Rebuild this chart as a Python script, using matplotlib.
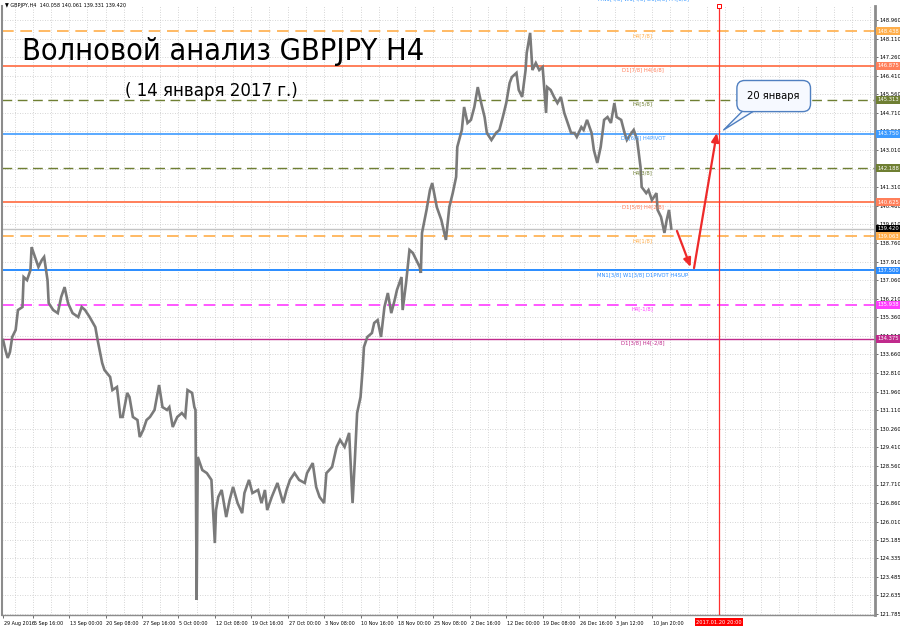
import matplotlib
matplotlib.use("Agg")
import matplotlib.pyplot as plt
import matplotlib.transforms as mtransforms
from matplotlib import font_manager as fm

# GBPJPY H4 path: bar index and price
bars = [0, 2, 4, 6, 8, 11, 13, 17, 18, 21,
        24, 25, 28, 31, 34, 36, 39, 40, 44, 48,
        51, 54, 57, 61, 66, 69, 72, 76, 81, 83,
        87, 89, 94, 96, 100, 103, 105, 109, 111, 114,
        118, 120, 123, 126, 129, 133, 137, 140, 144, 146,
        149, 153, 157, 160, 162, 166, 168, 169, 170, 171,
        175, 179, 183, 186, 187, 189, 192, 196, 199, 202,
        206, 210, 212, 216, 219, 224, 227, 230, 232, 236,
        241, 246, 249, 252, 256, 260, 265, 267, 272, 275,
        278, 282, 284, 289, 293, 296, 300, 304, 307, 309,
        311, 314, 316, 317, 320, 324, 326, 329, 332, 335,
        338, 341, 344, 346, 350, 351, 354, 357, 360, 363,
        366, 367, 368, 372, 375, 377, 381, 385, 389, 392,
        395, 398, 399, 403, 405, 408, 411, 414, 417, 420,
        423, 425, 429, 433, 436, 439, 442, 445, 447, 451,
        453, 456, 459, 460, 463, 465, 468, 471, 474, 477,
        478, 481, 484, 487, 490, 493, 496, 499, 502, 504,
        508, 510, 513, 517, 519, 522, 525, 528, 531, 534,
        537, 539, 543, 546, 548, 552, 554, 557, 560, 561,
        565, 567, 570, 574, 575, 578, 581, 583, 585, 587]
closes = [134.32, 133.86, 133.50, 133.77, 134.46, 134.78, 135.69, 135.83, 137.20, 137.06,
          137.52, 138.57, 138.12, 137.66, 137.98, 138.12, 137.06, 136.01, 135.69, 135.55,
          136.29, 136.74, 136.01, 135.55, 135.37, 135.83, 135.69, 135.37, 134.91, 134.32,
          133.27, 132.95, 132.63, 132.03, 132.17, 130.80, 130.80, 131.90, 131.71, 130.80,
          130.66, 129.88, 130.20, 130.66, 130.80, 131.12, 132.26, 131.25, 131.12, 131.25,
          130.34, 130.80, 130.98, 130.80, 132.03, 131.90, 131.25, 131.12, 122.43, 128.97,
          128.37, 128.23, 127.92, 125.03, 126.54, 127.14, 127.46, 126.22, 127.00, 127.60,
          126.86, 126.40, 127.32, 127.92, 127.32, 127.46, 126.86, 127.46, 126.54, 127.14,
          127.78, 126.86, 127.46, 127.92, 128.23, 127.92, 127.78, 128.23, 128.69, 127.60,
          127.14, 126.86, 128.23, 128.51, 129.43, 129.75, 129.43, 130.07, 126.86, 128.83,
          130.98, 131.71, 133.09, 134.00, 134.46, 134.64, 135.10, 135.23, 134.46, 135.83,
          136.47, 135.55, 136.15, 136.61, 137.20, 135.69, 136.93, 138.44, 138.30, 137.98,
          137.66, 137.39, 139.22, 140.27, 141.18, 141.50, 140.40, 139.81, 138.90, 140.40,
          141.04, 141.78, 143.15, 143.93, 144.98, 144.25, 144.39, 144.98, 145.89, 145.16,
          144.52, 143.79, 143.47, 143.79, 143.93, 144.52, 145.16, 146.08, 146.35, 146.54,
          145.76, 145.44, 146.67, 147.45, 148.37, 146.67, 146.99, 146.67, 146.81, 144.71,
          145.89, 145.76, 145.44, 145.16, 145.44, 144.71, 144.25, 143.79, 143.79, 143.61,
          144.06, 143.93, 144.39, 143.79, 143.01, 142.42, 143.15, 144.39, 144.52, 144.25,
          145.16, 144.52, 144.39, 143.79, 143.47, 143.79, 143.93, 143.47, 142.23, 141.32,
          141.04, 141.18, 140.72, 141.04, 140.27, 139.95, 139.22, 139.81, 140.27, 139.42]

last_price = 139.420
header = "\u25BC GBPJPY,H4  140.058 140.061 139.331 139.420"

# forecast arrows (wave down, then up to the target date)
forecast_bars = [592, 604, 607, 627]
forecast_prices = [139.31, 137.66, 137.61, 143.79]
target_bar = 629
target_label = "2017.01.20 20:00"

# murrey / pivot levels
level_values = [148.438, 146.875, 145.313, 143.750, 142.188, 140.625,
                139.063, 137.500, 135.938, 134.375]
level_names = ["H4[7/8]", "D1[7/8] H4[6/8]", "H4[5/8]", "D1[6/8] H4PIVOT",
               "H4[3/8]", "D1[5/8] H4[2/8]", "H4[1/8]",
               "MN1[3/8] W1[3/8] D1PIVOT H4SUP", "H4[-1/8]", "D1[3/8] H4[-2/8]"]
level_colors = ['#ffae4a', '#ff7f5a', '#6f7f33', '#3d9bff', '#6f7f33', '#ff7f5a',
                '#ffae4a', '#2a8cff', '#ff3cff', '#c02a8c']
level_dashed = [True, False, True, False, True, False, True, False, True, False]
level_widths = [1.2, 1.4, 1.0, 1.2, 1.0, 1.4, 1.2, 1.4, 1.2, 1.0]

date_labels = ["29 Aug 2016", "5 Sep 16:00", "13 Sep 00:00", "20 Sep 08:00",
               "27 Sep 16:00", "5 Oct 00:00", "12 Oct 08:00", "19 Oct 16:00",
               "27 Oct 00:00", "3 Nov 08:00", "10 Nov 16:00", "18 Nov 00:00",
               "25 Nov 08:00", "2 Dec 16:00", "12 Dec 00:00", "19 Dec 08:00",
               "26 Dec 16:00", "3 Jan 12:00", "10 Jan 20:00"]
date_bars = [0, 26, 58, 90, 122, 154, 186, 218, 250, 282, 314, 346, 378,
             410, 442, 474, 506, 538, 570]
price_ticks = [148.960, 148.110, 147.260, 146.410, 145.560, 144.710, 143.860,
               143.010, 142.160, 141.310, 140.460, 139.610, 138.760, 137.910,
               137.060, 136.210, 135.360, 134.510, 133.660, 132.810, 131.960,
               131.110, 130.260, 129.410, 128.560, 127.710, 126.860, 126.010,
               125.185, 124.335, 123.485, 122.635, 121.785]


# look for a narrow sans font, else shrink Liberation Sans
def find_narrow():
    keys = ['liberationsansnarrow-regular', 'dejavusanscondensed.ttf',
            'robotocondensed-regular', 'roboto_condensed-regular', 'opensans_condensed']
    files = [f.fname for f in fm.fontManager.ttflist]
    for key in keys:
        for fn in files:
            if key in fn.lower().replace(' ', ''):
                return fn
    return None

NARROW_FILE = find_narrow()

def nfont(size):
    if NARROW_FILE:
        return fm.FontProperties(fname=NARROW_FILE, size=size)
    return fm.FontProperties(family=['Liberation Sans', 'DejaVu Sans'], size=size * 0.84)


fig = plt.figure(figsize=(9, 6.29), dpi=100)
ax = fig.add_axes([2/900, 14/629, 873/900, 609/629])
ax.set_xlim(-1, 766)
ax.set_ylim(121.74, 149.60)

# grid: every date tick and midway, every price tick
for gx in range(-6, 766, 16):
    ax.axvline(gx, color='#c8c8c8', lw=0.6, ls=(0, (1, 2)), zorder=0)
for gy in price_ticks:
    ax.axhline(gy, color='#c8c8c8', lw=0.6, ls=(0, (1, 2)), zorder=0)

# price
ax.plot(bars, closes, color='#7a7a7a', lw=1.9, zorder=3, solid_joinstyle='miter')

# levels
for v, name, c, d, w in zip(level_values, level_names, level_colors, level_dashed, level_widths):
    ls = (0, (7, 4)) if d else '-'
    ax.axhline(v, color=c, lw=w, ls=ls, zorder=2)
    ax.annotate(name, xy=(562, v), xytext=(0, -1.3), textcoords='offset points',
                ha='center', va='top', fontproperties=nfont(4.2), color=c, zorder=4)
    ax.text(1.003, v, "%.3f" % v, transform=ax.get_yaxis_transform(), ha='left', va='center',
            fontproperties=nfont(4.2), color='white', zorder=6, clip_on=False,
            bbox=dict(boxstyle='square,pad=0.25', fc=c, ec='none'))

# current price line and label
ax.axhline(last_price, color='#c4c4c4', lw=1.0, zorder=1)
ax.text(1.003, last_price, "%.3f" % last_price, transform=ax.get_yaxis_transform(),
        ha='left', va='center', fontproperties=nfont(4.2), color='white', zorder=7,
        clip_on=False, bbox=dict(boxstyle='square,pad=0.25', fc='black', ec='none'))

# target date line
ax.axvline(target_bar, color='#ff3030', lw=0.9, zorder=3)
ax.plot([target_bar], [149.60], marker='s', ms=2.5, mfc='white', mec='red', mew=0.7,
        clip_on=False, zorder=8)
ax.text(target_bar, -0.008, target_label, transform=ax.get_xaxis_transform(), ha='center',
        va='top', fontproperties=nfont(4.1), color='white', clip_on=False,
        bbox=dict(boxstyle='square,pad=0.25', fc='#ff0000', ec='none'))

# forecast arrows
for i in (0, 2):
    ax.annotate("", xy=(forecast_bars[i + 1], forecast_prices[i + 1]),
                xytext=(forecast_bars[i], forecast_prices[i]),
                arrowprops=dict(arrowstyle='-|>,head_length=0.5,head_width=0.22',
                                color='#ee2a2a', lw=1.6, shrinkA=0, shrinkB=0), zorder=5)

# callout
ax.annotate("20 января", xy=(633, 143.93), xytext=(677, 145.48),
            fontproperties=nfont(8), ha='center', va='center', zorder=9,
            bbox=dict(boxstyle='round,pad=0.95,rounding_size=0.7', fc='#f6f9ff', ec='#4f7fc0', lw=1),
            arrowprops=dict(arrowstyle='wedge,tail_width=0.9', fc='#f6f9ff', ec='#4f7fc0',
                            lw=1, relpos=(0.25, 0.05), patchA=None, shrinkB=0))

# axes styling
ax.spines['top'].set_visible(False)
ax.spines['left'].set_color('#8c8c8c')
ax.spines['left'].set_linewidth(1.5)
ax.spines['right'].set_color('#8c8c8c')
ax.spines['right'].set_linewidth(2)
ax.spines['bottom'].set_color('#8c8c8c')
ax.spines['bottom'].set_linewidth(1)

ax.yaxis.tick_right()
ax.set_yticks(price_ticks)
ax.set_yticklabels(["%.3f" % t for t in price_ticks], fontproperties=nfont(4.2))
ax.tick_params(axis='y', length=2, pad=1.5, color='#555555', width=0.6)

ax.set_xticks(date_bars)
ax.set_xticklabels(date_labels, fontproperties=nfont(3.9), ha='left')
ax.tick_params(axis='x', length=2.5, pad=1.5, color='#555555', width=0.6)
offset = mtransforms.ScaledTranslation(0.6/72, 0, fig.dpi_scale_trans)
for lab in ax.get_xticklabels():
    lab.set_transform(lab.get_transform() + offset)

# texts
fig.text(5/900, 1 - 5/629, header, fontproperties=nfont(4.0), va='center', ha='left')
fig.text(643/900, 1 + 1.5/629, "MN1[4/8] W1[4/8] D1[8/8] H4[8/8]", fontproperties=nfont(4.2),
         color='#3d9bff', ha='center', va='center')
fig.text(22/900, 1 - 52/629, "Волновой анализ GBPJPY H4", fontproperties=nfont(22),
         ha='left', va='center', color='black')
fig.text(125/900, 1 - 91/629, "( 14 января 2017 г.)", fontproperties=nfont(13.3),
         ha='left', va='center', color='black')

fig.savefig("out.png", dpi=100, facecolor='white')
